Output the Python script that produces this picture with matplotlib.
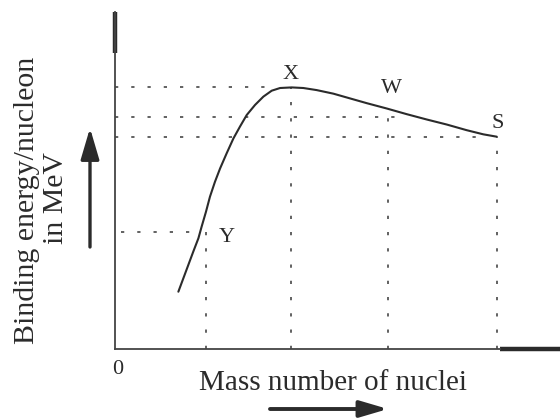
import matplotlib
matplotlib.use("Agg")
import matplotlib.pyplot as plt

# Binding energy per nucleon vs mass number (schematic curve)
mass_number = [39.5, 42.6, 45.7, 48.8, 52.0, 54.0, 56.7, 59.2, 62.3, 65.5,
               69.6, 73.8, 77.9, 82.1, 87.3, 92.5, 97.7, 102.9, 110.1, 117.4,
               125.7, 136.1, 146.5, 156.9, 169.4, 181.8, 194.3, 206.8, 219.2,
               229.6, 238.0]
binding_energy = [1.93, 2.38, 2.83, 3.28, 3.73, 4.12, 4.62, 5.13, 5.63, 6.08,
                  6.59, 7.09, 7.49, 7.88, 8.22, 8.50, 8.70, 8.79, 8.81, 8.79,
                  8.72, 8.60, 8.44, 8.28, 8.10, 7.91, 7.73, 7.56, 7.37,
                  7.23, 7.15]

# Marked nuclei
point_names = ["Y", "X", "W", "S"]
point_mass = [57.0, 110.0, 170.0, 238.0]
point_energy = [3.94, 8.81, 7.95, 7.14]

# Horizontal reference levels (energy, start, end)
level_energy = [3.94, 8.81, 7.81, 7.14]
level_start = [4.0, 0.0, 0.0, 0.0]
level_end = [53.0, 100.0, 179.0, 232.0]

# Label offsets in pixels from each marked point
label_dx = [20, -1, 4, 1]
label_dy = [-10, 8, 20, 9]

serif = "Liberation Serif"
ink = "#2b2b2b"
dot_color = "#555555"

fig = plt.figure(figsize=(5.6, 4.18), dpi=100)
W_PX, H_PX = 560, 418
ax = fig.add_axes([115 / W_PX, (H_PX - 349) / H_PX, 385 / W_PX, 337 / H_PX])
ax.set_xlim(0, 240)
ax.set_ylim(0, 11.35)

for side in ("top", "right"):
    ax.spines[side].set_visible(False)
for side in ("left", "bottom"):
    ax.spines[side].set_linewidth(1.3)
    ax.spines[side].set_color("#444444")
ax.set_xticks([])
ax.set_yticks([])

# heavier stubs at the axis ends
ax.plot([0, 0], [0.878, 1.0], transform=ax.transAxes, lw=3.2, color=ink,
        clip_on=False, solid_capstyle="butt")
ax.plot([1.0, 1.16], [0, 0], transform=ax.transAxes, lw=3.2, color=ink,
        clip_on=False, solid_capstyle="butt")

dots = (0, (1.8, 7.2))
for e, x0, x1 in zip(level_energy, level_start, level_end):
    ax.plot([x0, x1], [e, e], color=dot_color, lw=1.3, linestyle=dots)
for m, e in zip(point_mass, point_energy):
    ax.plot([m, m], [0, e], color=dot_color, lw=1.3, linestyle=dots)

ax.plot(mass_number, binding_energy, color=ink, lw=1.5,
        solid_capstyle="round", solid_joinstyle="round")

for name, m, e, dx, dy in zip(point_names, point_mass, point_energy, label_dx, label_dy):
    ax.annotate(name, (m, e), xytext=(dx, dy), textcoords="offset pixels",
                ha="center", va="baseline", fontsize=16, family=serif, color=ink)

# axis captions
fig.text(118 / W_PX, (H_PX - 369) / H_PX, "0", ha="center", va="center",
         fontsize=16, family=serif, color=ink)
fig.text(333 / W_PX, (H_PX - 390) / H_PX, "Mass number of nuclei", ha="center",
         va="baseline", fontsize=21, family=serif, color=ink)
fig.text(27 / W_PX, (H_PX - 200) / H_PX, "Binding energy/nucleon", rotation=90,
         ha="center", va="center", fontsize=21.5, family=serif, color=ink)
fig.text(56 / W_PX, (H_PX - 198) / H_PX, "in MeV", rotation=90,
         ha="center", va="center", fontsize=21.5, family=serif, color=ink)

# direction arrows
fig_px = "figure pixels"
ax.annotate("", xy=(90, H_PX - 128), xytext=(90, H_PX - 247),
            xycoords=fig_px, textcoords=fig_px,
            arrowprops=dict(arrowstyle="-|>,head_length=0.95,head_width=0.28",
                            mutation_scale=20, lw=2.4, color=ink,
                            shrinkA=0, shrinkB=0))
ax.annotate("", xy=(388, H_PX - 409), xytext=(270, H_PX - 409),
            xycoords=fig_px, textcoords=fig_px,
            arrowprops=dict(arrowstyle="-|>,head_length=0.85,head_width=0.25",
                            mutation_scale=20, lw=2.8, color=ink,
                            shrinkA=0, shrinkB=0))

fig.savefig("out.png", dpi=100)
